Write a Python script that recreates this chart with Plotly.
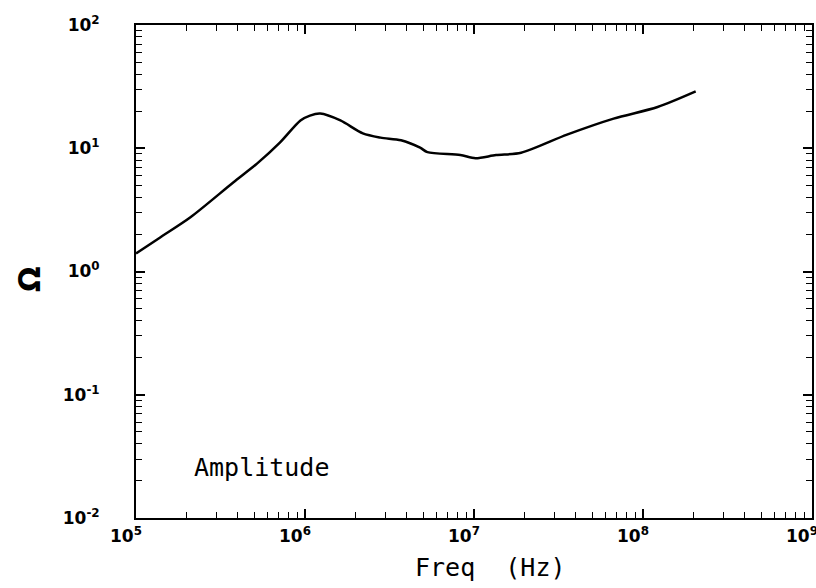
import plotly.graph_objects as go

freq_hz = [1.0e5, 1.39e5, 2.09e5, 3.76e5, 5.2e5, 7.1e5, 9.4e5, 1.07e6, 1.23e6, 1.62e6, 2.2e6,
           2.8e6, 3.7e6, 4.8e6, 5.3e6, 8.3e6, 1.02e7, 1.35e7, 1.9e7, 3.55e7, 6.7e7,
           1.22e8, 2.05e8]
amplitude_ohm = [1.40, 1.89, 2.74, 5.27, 7.5, 11.1, 16.8, 18.4, 19.1, 16.8, 13.2,
                 12.2, 11.6, 10.1, 9.3, 8.8, 8.3, 8.8, 9.2, 12.9, 17.4,
                 21.6, 28.9]

x_tickvals = [1e5, 1e6, 1e7, 1e8, 1e9]
x_ticktext = ["10<sup>5</sup>", "10<sup>6</sup>", "10<sup>7</sup>", "10<sup>8</sup>", "10<sup>9</sup>"]
y_tickvals = [1e-2, 1e-1, 1e0, 1e1, 1e2]
y_ticktext = ["10<sup>-2</sup>", "10<sup>-1</sup>", "10<sup>0</sup>", "10<sup>1</sup>", "10<sup>2</sup>"]
minor_digits = [2, 3, 4, 5, 6, 7, 8, 9]
x_minor = [d * 10 ** e for e in range(5, 9) for d in minor_digits]
y_minor = [d * 10.0 ** e for e in range(-2, 2) for d in minor_digits]

fig = go.Figure()
fig.add_trace(go.Scatter(x=freq_hz, y=amplitude_ohm, mode="lines",
                         line=dict(color="black", width=2.5, shape="spline", smoothing=0.8),
                         showlegend=False))

def axis_common(minor_vals):
    return dict(
        type="log", showgrid=False, zeroline=False, showline=True, linecolor="black",
        linewidth=2, mirror="allticks", ticks="inside", ticklen=9, tickwidth=1.5, tickcolor="black",
        automargin=False, ticklabeloverflow="allow",
        minor=dict(ticks="inside", ticklen=6, tickwidth=1.2, tickcolor="black",
                   tickmode="array", tickvals=minor_vals, showgrid=False),
        tickfont=dict(family="DejaVu Sans", size=17, color="black", weight="bold"),
    )

fig.update_layout(
    width=816, height=588,
    margin=dict(l=136, r=4, t=25, b=70),
    plot_bgcolor="white", paper_bgcolor="white",
    xaxis=dict(axis_common(x_minor), range=[5, 9], tickvals=x_tickvals, ticktext=x_ticktext,
               ticklabelshift=-10, ticklabelstandoff=2),
    yaxis=dict(axis_common(y_minor), range=[-2, 2], tickvals=y_tickvals, ticktext=y_ticktext,
               ticklabelstandoff=31),
    annotations=[
        dict(x=(29 - 136) / 676, y=(518 - 279) / 493, xref="paper", yref="paper", text="<b>Ω</b>",
             textangle=-90, showarrow=False, xanchor="center", yanchor="middle",
             font=dict(family="DejaVu Sans", size=30, color="black")),
        dict(x=(192 - 136) / 676, y=(518 - 467) / 493, xref="paper", yref="paper", text="Amplitude",
             showarrow=False, xanchor="left", yanchor="middle",
             font=dict(family="DejaVu Sans Mono", size=25, color="black")),
        dict(x=(490 - 136) / 676, y=(518 - 567) / 493, xref="paper", yref="paper", text="Freq  (Hz)",
             showarrow=False, xanchor="center", yanchor="middle",
             font=dict(family="DejaVu Sans Mono", size=25, color="black")),
    ],
)

fig.write_html("out.html", config={"displayModeBar": False},
               post_script="document.body.style.margin='0';document.body.style.overflow='hidden';")
